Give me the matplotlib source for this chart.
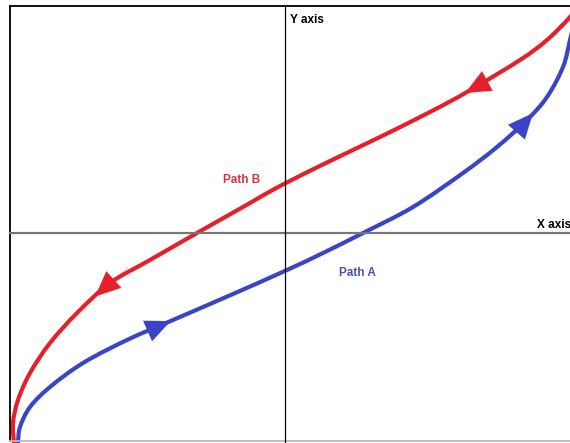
import matplotlib
matplotlib.use("Agg")
import matplotlib.pyplot as plt
from matplotlib.path import Path
from matplotlib.patches import PathPatch
import numpy as np

# Path A (blue), traversed from bottom-left to top-right
path_a_x = [-267, -265, -255, -235, -202, -158, -112, -52, 2, 38, 80, 128, 178, 212, 242, 262, 278, 285, 291]
path_a_y = [-210, -194, -174, -154, -130, -107, -87, -61, -37, -20, 1, 26, 60, 86, 113, 136, 166, 193, 218]

# Path B (red), traversed from top-right to bottom-left
path_b_x = [292, 285, 262, 235, 182, 145, 95, 45, -5, -35, -88, -135, -175, -208, -235, -255, -267, -272, -271]
path_b_y = [228, 216, 193, 173, 141, 121, 96, 72, 47, 30, 0, -27, -50, -80, -110, -140, -167, -190, -210]

# arrow locations: (segment index, fraction along segment)
arrows_a = [(5, 0.95), (14, 0.3)]
arrows_b = [(4, 0.05), (12, 0.45)]

labels = {"Path A": (72, -40), "Path B": (-43, 53)}

RED = "#e5202b"
BLUE = "#3a44c6"

fig = plt.figure(figsize=(5.70, 4.43), dpi=100)
ax = fig.add_axes([0, 0, 1, 1])
ax.set_xlim(-285, 285)
ax.set_ylim(-210, 233)
ax.axis("off")

# frame
ax.plot([-275, -275], [-208, 227], color="black", lw=1.3)
ax.plot([-275, 290], [227, 227], color="black", lw=1.3)
ax.plot([-275, 290], [-208, -208], color="#bbbbbb", lw=1.3)
# axes
ax.plot([-275, 290], [0, 0], color="#777777", lw=1.6)
ax.plot([0, 0], [-210, 227], color="black", lw=0.9)


def smooth_path(xs, ys):
    """Catmull-Rom through the points, expressed as cubic Bezier segments."""
    p = np.column_stack([xs, ys]).astype(float)
    n = len(p)
    verts = [p[0]]
    codes = [Path.MOVETO]
    for i in range(n - 1):
        p0 = p[i - 1] if i > 0 else p[i]
        p1 = p[i]
        p2 = p[i + 1]
        p3 = p[i + 2] if i + 2 < n else p[i + 1]
        c1 = p1 + (p2 - p0) / 6.0
        c2 = p2 - (p3 - p1) / 6.0
        verts += [c1, c2, p2]
        codes += [Path.CURVE4] * 3
    return Path(verts, codes)


def draw_path(xs, ys, color, arrows):
    patch = PathPatch(smooth_path(xs, ys), facecolor="none", edgecolor=color, lw=3.0,
                      capstyle="round", joinstyle="round")
    ax.add_patch(patch)
    for i, t in arrows:
        x0, y0 = xs[i], ys[i]
        x1, y1 = xs[i + 1], ys[i + 1]
        tip = (x0 + t * (x1 - x0), y0 + t * (y1 - y0))
        tail = (tip[0] - (x1 - x0), tip[1] - (y1 - y0))
        ax.annotate("", xy=tip, xytext=tail,
                    arrowprops=dict(arrowstyle="-|>,head_length=1.8,head_width=0.8",
                                    mutation_scale=10, color=color, lw=0.1,
                                    shrinkA=0, shrinkB=0))


draw_path(path_a_x, path_a_y, BLUE, arrows_a)
draw_path(path_b_x, path_b_y, RED, arrows_b)

ax.text(5, 213, "Y axis", fontsize=8.5, fontweight="bold", family="Liberation Sans",
        ha="left", va="center", color="black")
ax.text(252, 8, "X axis", fontsize=8.5, fontweight="bold", family="Liberation Sans",
        ha="left", va="center", color="black")
ax.text(labels["Path B"][0], labels["Path B"][1], "Path B", fontsize=8.5, fontweight="bold",
        family="Liberation Sans", ha="center", va="center", color="#d8333c")
ax.text(labels["Path A"][0], labels["Path A"][1], "Path A", fontsize=8.5, fontweight="bold",
        family="Liberation Sans", ha="center", va="center", color="#4553b5")

fig.savefig("out.png", dpi=100)
